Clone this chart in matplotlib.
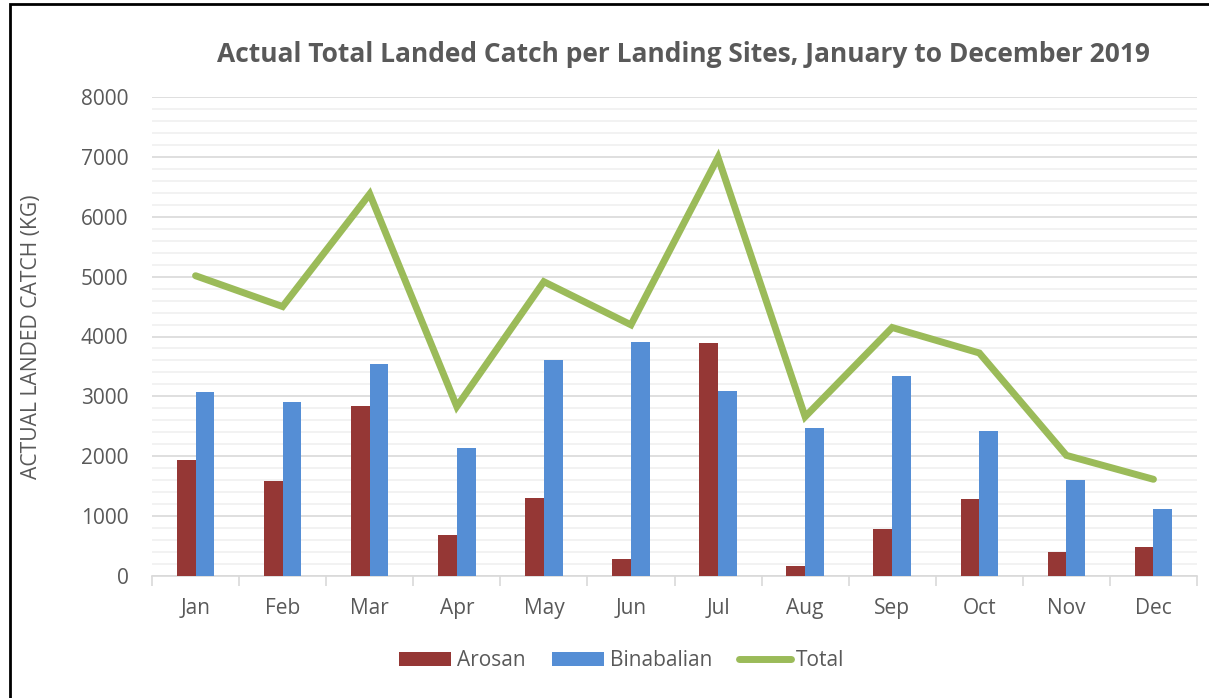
import matplotlib
matplotlib.use("Agg")
import matplotlib.pyplot as plt
import numpy as np
from matplotlib.patches import Rectangle
from matplotlib.ticker import MultipleLocator

months = ["Jan", "Feb", "Mar", "Apr", "May", "Jun", "Jul", "Aug", "Sep", "Oct", "Nov", "Dec"]
arosan = [1940, 1590, 2835, 680, 1300, 280, 3890, 165, 790, 1290, 395, 480]
binabalian = [3070, 2905, 3535, 2145, 3600, 3905, 3090, 2475, 3345, 2420, 1610, 1125]
total = [5015, 4500, 6380, 2830, 4915, 4195, 6990, 2660, 4150, 3725, 2015, 1615]
y_ticks = [0, 1000, 2000, 3000, 4000, 5000, 6000, 7000, 8000]

plt.rcParams['font.family'] = ['Open Sans', 'DejaVu Sans']
txt = '#595959'

fig = plt.figure(figsize=(12.09, 6.98), dpi=100)
W, H = 1209, 698
ax = fig.add_axes([152 / W, 1 - 576 / H, (1197 - 152) / W, (576 - 97) / H])

x = np.arange(len(months))
bw = 0.215
h1 = ax.bar(x - bw / 2, arosan, bw, color='#953735', label='Arosan', zorder=3)
h2 = ax.bar(x + bw / 2, binabalian, bw, color='#558ED5', label='Binabalian', zorder=3)
h3, = ax.plot(x, total, color='#9BBB59', lw=5, label='Total', zorder=4,
              solid_capstyle='round', solid_joinstyle='miter')

ax.set_xlim(-0.5, 11.5)
ax.set_ylim(0, 8000)
ax.set_yticks(y_ticks)
ax.yaxis.set_minor_locator(MultipleLocator(200))
ax.grid(axis='y', which='major', color='#D9D9D9', lw=1.2, zorder=0)
ax.grid(axis='y', which='minor', color='#F0F0F0', lw=1.2, zorder=0)
for s in ['top', 'right', 'left']:
    ax.spines[s].set_visible(False)
ax.spines['bottom'].set_color('#D9D9D9')
ax.spines['bottom'].set_linewidth(1.2)
ax.set_xticks(x)
ax.set_xticklabels(months)
ax.set_xticks(np.arange(-0.5, 12, 1), minor=True)
ax.tick_params(axis='x', which='major', length=0, pad=16, labelsize=15, labelcolor=txt)
ax.tick_params(axis='x', which='minor', length=7, color='#D9D9D9', width=1.2)
ax.tick_params(axis='y', which='both', length=0, pad=17, labelsize=15, labelcolor=txt)
ax.set_ylabel('ACTUAL LANDED CATCH (KG)', fontsize=15.2, color=txt)
ax.yaxis.set_label_coords((42 - 152) / (1197 - 152), 0.5)

fig.text(683 / W, 1 - 55 / H, 'Actual Total Landed Catch per Landing Sites, January to December 2019',
         ha='center', va='center', fontsize=19, fontweight='bold', color=txt)

leg = fig.legend(handles=[h1, h2, h3], loc='center', bbox_to_anchor=(622 / W, 1 - 661 / H), ncol=3,
                 frameon=False, fontsize=15, labelcolor=txt, handlelength=2.5, handleheight=0.65,
                 columnspacing=1.3, handletextpad=0.25)

fig.patches.append(Rectangle((10 / W, -0.05), 1.1, 1 - 4 / H + 0.05, transform=fig.transFigure,
                             fill=False, edgecolor='black', lw=2))

fig.savefig('out.png', dpi=100)
